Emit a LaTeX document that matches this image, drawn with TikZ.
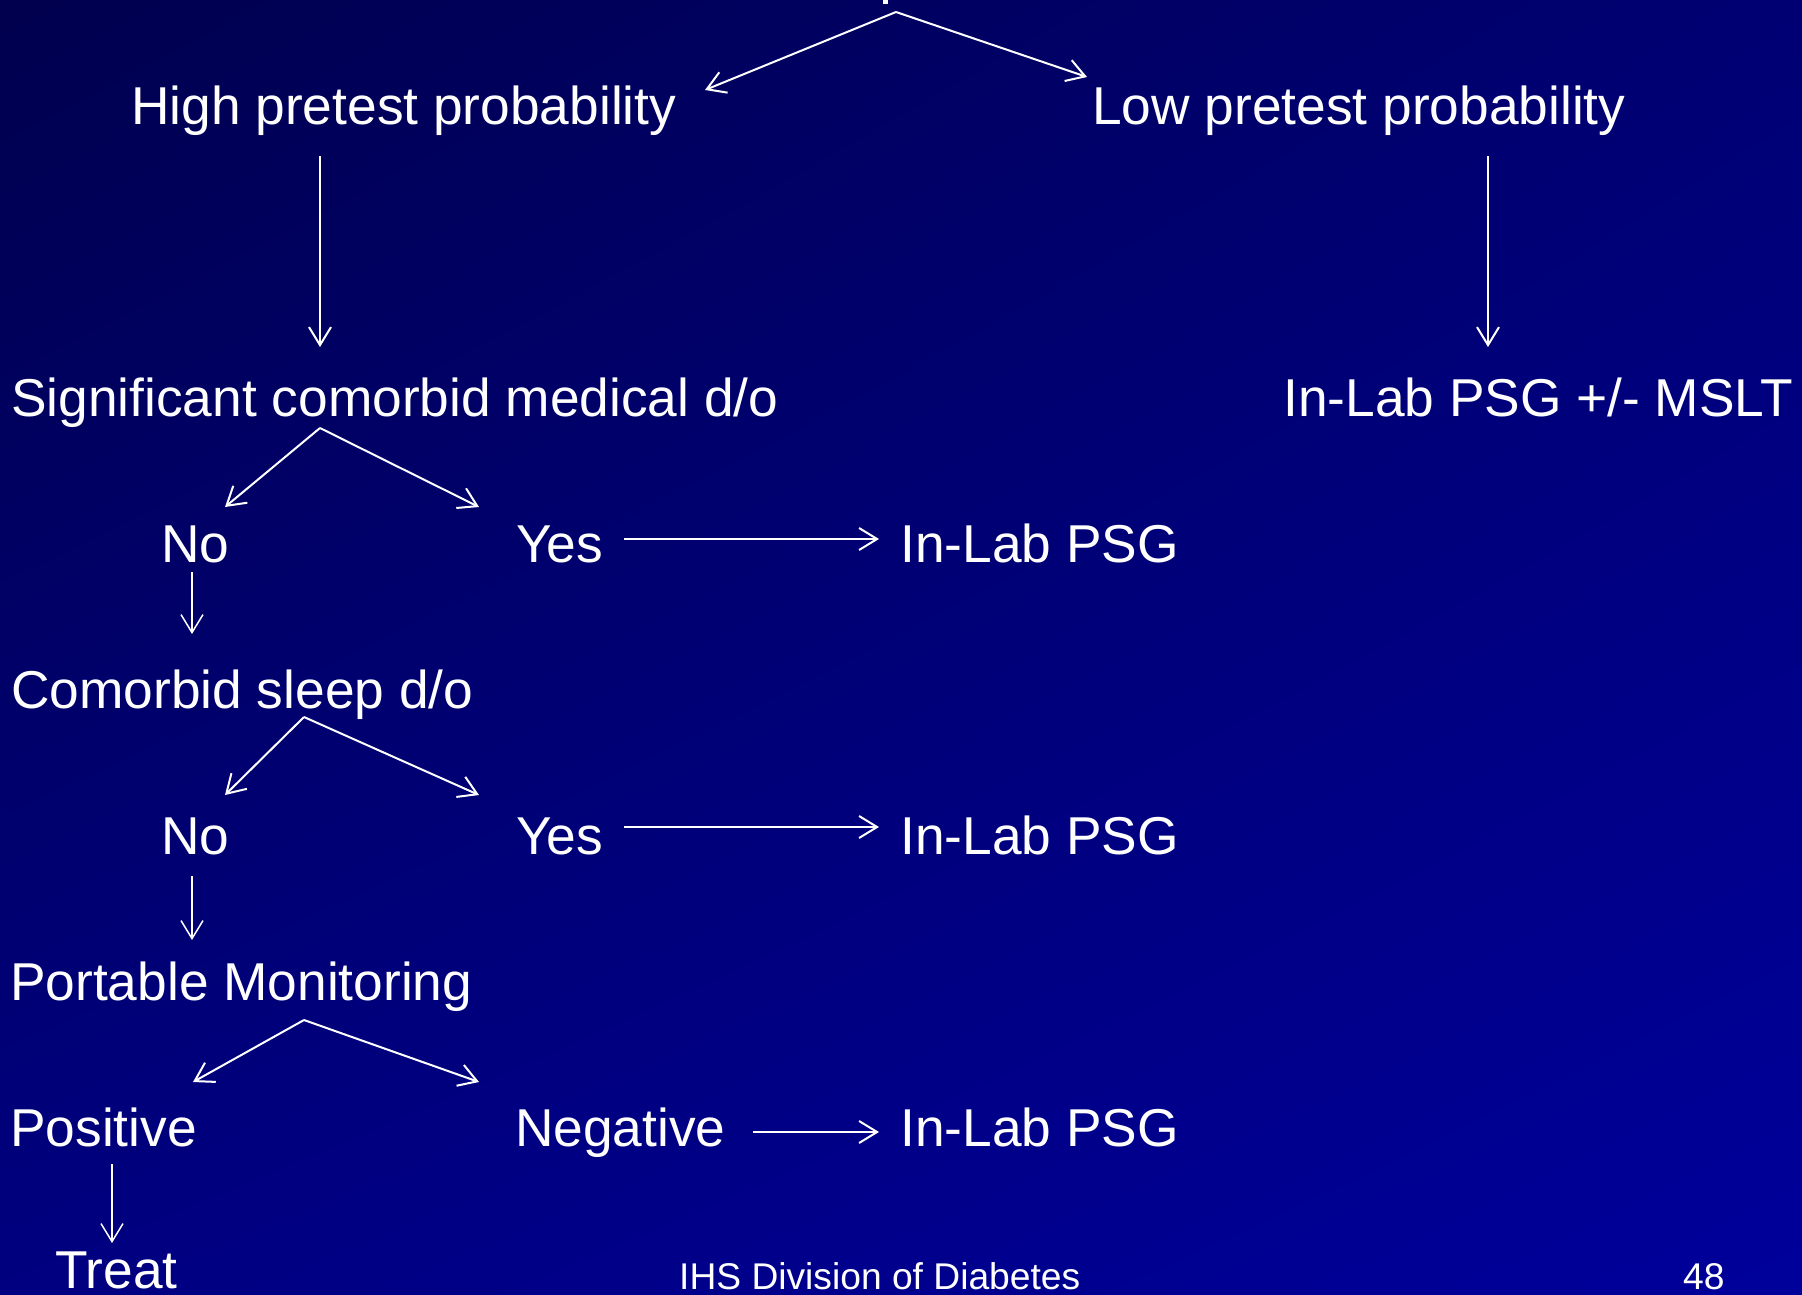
\documentclass[tikz,border=0pt]{standalone}
\usepackage{fontspec}
\setmainfont{Liberation Sans}
\usetikzlibrary{arrows.meta,shadings}
\definecolor{bgA}{RGB}{0,0,78}
\definecolor{bgB}{RGB}{0,0,115}
\definecolor{bgC}{RGB}{0,0,128}
\definecolor{bgD}{RGB}{0,0,155}
\begin{document}
\begin{tikzpicture}[x=1pt,y=-1pt,
 lbl/.style={anchor=base west, inner sep=0pt, text=white, font=\fontsize{53.3}{60}\selectfont},
 foot/.style={anchor=base west, inner sep=0pt, text=white, font=\fontsize{37.2}{42}\selectfont},
 arr/.style={draw=white, line width=2pt, -{Straight Barb[length=18pt,width=22pt]}},
 thinarr/.style={arr, line width=1.5pt}]
\shade[upper left=bgA, upper right=bgB, lower left=bgC, lower right=bgD] (0,0) rectangle (1802,1294);
\useasboundingbox (0,0) rectangle (1802,1294);
% fragment of a cut-off text at the top edge
\fill[white] (883,0) rectangle (888,4);
% texts
\node[lbl] (hi) at (131,124) {High pretest probability};
\node[lbl] (lo) at (1092,124) {Low pretest probability};
\node[lbl] (sig) at (11,416) {Significant comorbid medical d/o};
\node[lbl] (msl) at (1283,416) {In-Lab PSG +/- MSLT};
\node[lbl] (no1) at (161,562) {No};
\node[lbl] (yes1) at (516,562) {Yes};
\node[lbl] (psg1) at (900,562) {In-Lab PSG};
\node[lbl] (slp) at (11,708) {Comorbid sleep d/o};
\node[lbl] (no2) at (161,854) {No};
\node[lbl] (yes2) at (516,854) {Yes};
\node[lbl] (psg2) at (900,854) {In-Lab PSG};
\node[lbl] (pm) at (10,1000) {Portable Monitoring};
\node[lbl] (pos) at (10,1146) {Positive};
\node[lbl] (neg) at (515,1146) {Negative};
\node[lbl] (psg3) at (900,1146) {In-Lab PSG};
\node[lbl] (tr) at (55,1288) {Treat};
\node[foot] (ihs) at (679,1289) {IHS Division of Diabetes};
\node[foot] (pg) at (1683,1289) {48};
% connector end points
\coordinate (top) at (896,12);
\coordinate (hiT) at (705,90);
\coordinate (loT) at (1087,77);
\coordinate (hiB) at (320,156);
\coordinate (sigT) at (320,347);
\coordinate (loB) at (1488,156);
\coordinate (mslT) at (1488,347);
\coordinate (sigA) at (320,428);
\coordinate (no1T) at (225,507);
\coordinate (yes1T) at (479,507);
\coordinate (no1B) at (192,572);
\coordinate (slpT) at (192,634);
\coordinate (yes1R) at (624,539);
\coordinate (psg1L) at (879,539);
\coordinate (slpA) at (304,717);
\coordinate (no2T) at (225,795);
\coordinate (yes2T) at (479,795);
\coordinate (no2B) at (192,876);
\coordinate (pmT) at (192,940);
\coordinate (yes2R) at (624,827);
\coordinate (psg2L) at (879,827);
\coordinate (pmA) at (304,1020);
\coordinate (posT) at (193,1082);
\coordinate (negT) at (479,1082);
\coordinate (negR) at (753,1132);
\coordinate (psg3L) at (879,1132);
\coordinate (posB) at (112,1164);
\coordinate (trT) at (112,1243);
% connectors
\draw[arr] (top) -- (hiT);
\draw[arr] (top) -- (loT);
\draw[arr] (hiB) -- (sigT);
\draw[arr] (loB) -- (mslT);
\draw[arr] (sigA) -- (no1T);
\draw[arr] (sigA) -- (yes1T);
\draw[thinarr] (no1B) -- (slpT);
\draw[arr] (yes1R) -- (psg1L);
\draw[arr] (slpA) -- (no2T);
\draw[arr] (slpA) -- (yes2T);
\draw[thinarr] (no2B) -- (pmT);
\draw[arr] (yes2R) -- (psg2L);
\draw[arr] (pmA) -- (posT);
\draw[arr] (pmA) -- (negT);
\draw[arr] (negR) -- (psg3L);
\draw[thinarr] (posB) -- (trT);
\end{tikzpicture}
\end{document}
